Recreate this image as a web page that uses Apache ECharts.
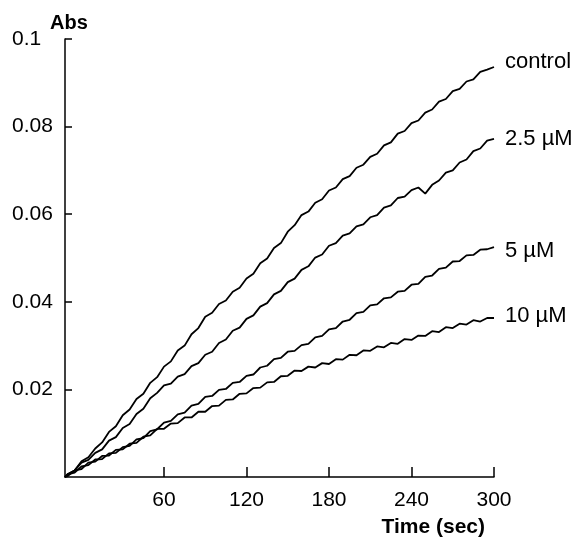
<!DOCTYPE html>
<html>
<head>
<meta charset="utf-8">
<script src="https://cdn.jsdelivr.net/npm/echarts@6/dist/echarts.min.js"></script>
<style>html,body{margin:0;padding:0;background:#fff}#c{width:577px;height:541px}</style>
</head>
<body>
<div id="c"></div>
<script>
const times = [-12,-10,-5,0,5,10,15,20,25,30,35,40,45,50,55,60,65,70,75,80,85,90,95,100,105,110,115,120,125,130,135,140,145,150,155,160,165,170,175,180,185,190,195,200,205,210,215,220,225,230,235,240,245,250,255,260,265,270,275,280,285,290,295,300];
const seriesNames = ['control', '2.5 µM', '5 µM', '10 µM'];
const control = [0,0.0006,0.0015,0.0036,0.0045,0.0065,0.0079,0.0103,0.0116,0.0141,0.0154,0.0178,0.0190,0.0215,0.0228,0.0252,0.0264,0.0289,0.0300,0.0326,0.0340,0.0366,0.0375,0.0395,0.0403,0.0423,0.0432,0.0453,0.0464,0.0488,0.0499,0.0523,0.0534,0.0560,0.0575,0.0598,0.0606,0.0626,0.0634,0.0654,0.0661,0.0680,0.0687,0.0706,0.0713,0.0731,0.0738,0.0757,0.0764,0.0784,0.0790,0.0808,0.0814,0.0832,0.0839,0.0857,0.0863,0.0881,0.0886,0.0903,0.0908,0.0925,0.0930,0.0936];
const uM2_5 = [0,0.0007,0.0015,0.0033,0.0039,0.0055,0.0063,0.0083,0.0091,0.0112,0.0121,0.0144,0.0156,0.0180,0.0192,0.0209,0.0213,0.0229,0.0235,0.0253,0.0260,0.0279,0.0286,0.0306,0.0314,0.0334,0.0341,0.0361,0.0369,0.0389,0.0397,0.0417,0.0425,0.0445,0.0453,0.0473,0.0481,0.0501,0.0508,0.0528,0.0534,0.0551,0.0556,0.0572,0.0577,0.0593,0.0598,0.0615,0.0620,0.0637,0.0640,0.0655,0.0661,0.0647,0.0667,0.0677,0.0695,0.0700,0.0718,0.0725,0.0744,0.0750,0.0768,0.0772];
const uM5 = [0,0.0006,0.0010,0.0024,0.0027,0.0040,0.0041,0.0054,0.0055,0.0068,0.0071,0.0086,0.0089,0.0105,0.0109,0.0124,0.0128,0.0143,0.0147,0.0163,0.0167,0.0183,0.0185,0.0199,0.0201,0.0215,0.0217,0.0231,0.0234,0.0250,0.0254,0.0269,0.0272,0.0286,0.0288,0.0301,0.0304,0.0319,0.0322,0.0337,0.0340,0.0355,0.0359,0.0374,0.0377,0.0392,0.0394,0.0408,0.0410,0.0423,0.0425,0.0439,0.0441,0.0457,0.0460,0.0475,0.0478,0.0492,0.0493,0.0506,0.0507,0.0519,0.0520,0.0525];
const uM10 = [0,0.0002,0.0015,0.0018,0.0033,0.0035,0.0048,0.0049,0.0062,0.0063,0.0076,0.0078,0.0092,0.0095,0.0110,0.0110,0.0122,0.0123,0.0136,0.0136,0.0149,0.0149,0.0162,0.0163,0.0176,0.0177,0.0190,0.0191,0.0203,0.0204,0.0216,0.0217,0.0230,0.0231,0.0243,0.0242,0.0252,0.0250,0.0260,0.0258,0.0269,0.0268,0.0279,0.0278,0.0289,0.0288,0.0298,0.0296,0.0306,0.0304,0.0315,0.0313,0.0323,0.0322,0.0333,0.0331,0.0342,0.0340,0.0350,0.0348,0.0358,0.0355,0.0363,0.0363];
const xTickValues = [60, 120, 180, 240, 300];
const yTickValues = [0.02, 0.04, 0.06, 0.08, 0.1];

const FONT = "'Liberation Sans', Arial, Helvetica, sans-serif";
const labelOffsets = [[0,-5],[0,0],[0,4],[0,-2]];
const allData = [control, uM2_5, uM5, uM10];

const chart = echarts.init(document.getElementById('c'), null, {renderer: 'canvas'});
chart.setOption({
  animation: false,
  backgroundColor: '#fff',
  grid: {left: 65, right: 83, top: 39, bottom: 64, containLabel: false},
  xAxis: {
    type: 'value', min: -12, max: 300,
    name: 'Time (sec)', nameLocation: 'end', nameGap: -9,
    nameTextStyle: {fontFamily: FONT, fontWeight: 'bold', fontSize: 21, color: '#000', align: 'right', verticalAlign: 'top', padding: [40, 0, 0, 0]},
    axisLine: {show: true, onZero: false, lineStyle: {color: '#000', width: 1.5}},
    axisTick: {show: true, inside: true, length: 10, customValues: xTickValues, lineStyle: {color: '#000', width: 1.5}},
    axisLabel: {customValues: xTickValues, margin: 13, fontFamily: FONT, fontSize: 21, color: '#000'},
    splitLine: {show: false}
  },
  yAxis: {
    type: 'value', min: 0, max: 0.1,
    name: 'Abs', nameLocation: 'end', nameGap: 6,
    nameTextStyle: {fontFamily: FONT, fontWeight: 'bold', fontSize: 20, color: '#000', align: 'center', padding: [0, 0, 0, 8]},
    axisLine: {show: true, onZero: false, lineStyle: {color: '#000', width: 1.5}},
    axisTick: {show: true, inside: true, length: 7, customValues: yTickValues, lineStyle: {color: '#000', width: 1.5}},
    axisLabel: {customValues: yTickValues, align: 'left', margin: 53, fontFamily: FONT, fontSize: 21, color: '#000',
      formatter: v => String(Math.round(v * 100) / 100)},
    splitLine: {show: false}
  },
  series: seriesNames.map((name, i) => ({
    name: name,
    type: 'line',
    showSymbol: false,
    symbol: 'none',
    data: times.map((t, k) => [t, allData[i][k]]),
    lineStyle: {color: '#000', width: 1.8},
    endLabel: {show: true, formatter: name, distance: 11, offset: labelOffsets[i], fontFamily: FONT, fontSize: 22, color: '#000'},
    silent: true
  }))
});
</script>
</body>
</html>
